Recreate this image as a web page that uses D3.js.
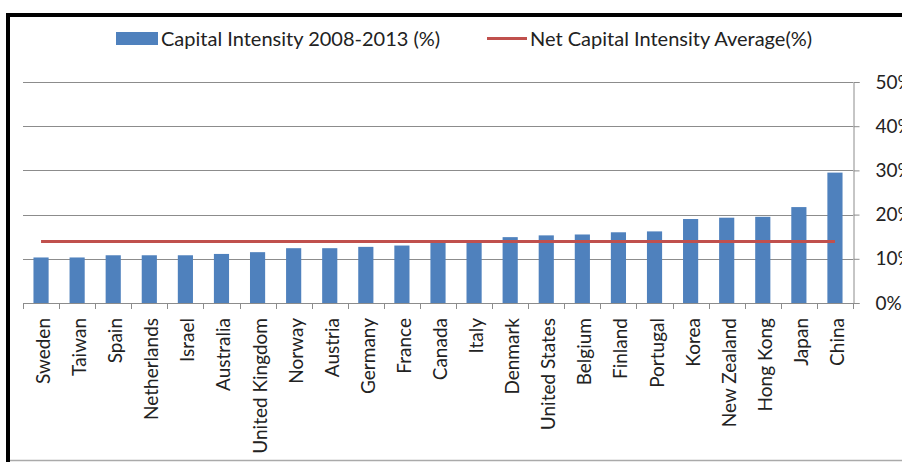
<!DOCTYPE html>
<html>
<head>
<meta charset="utf-8">
<script src="https://cdn.jsdelivr.net/npm/d3@7"></script>
<style>
  body { margin: 0; background: #fff; }
  svg { display: block; }
  text { font-family: Lato, "Open Sans", sans-serif; fill: #222; }
</style>
</head>
<body>
<div id="chart"></div>
<script>
// data
let countries = ["Sweden", "Taiwan", "Spain", "Netherlands", "Israel", "Australia",
  "United Kingdom", "Norway", "Austria", "Germany", "France", "Canada", "Italy",
  "Denmark", "United States", "Belgium", "Finland", "Portugal", "Korea",
  "New Zealand", "Hong Kong", "Japan", "China"];
let intensity = [10.3, 10.3, 10.8, 10.8, 10.8, 11.1, 11.5, 12.4, 12.4, 12.7, 13.0,
  14.0, 14.0, 14.9, 15.3, 15.5, 16.0, 16.2, 19.0, 19.3, 19.5, 21.7, 29.5];
let averageValue = 13.9;
let yTicks = [0, 10, 20, 30, 40, 50];
let seriesNames = ["Capital Intensity 2008-2013 (%)", "Net Capital Intensity Average(%)"];

let width = 902;
let height = 462;
let plotLeft = 23, plotRight = 853, plotTop = 82, plotBottom = 303;

let svg = d3.select("#chart").append("svg")
  .attr("width", width)
  .attr("height", height);

// frame
svg.append("rect")
  .attr("x", 6).attr("y", 13).attr("width", 4).attr("height", height - 13)
  .attr("fill", "#000");
svg.append("rect")
  .attr("x", 6).attr("y", 13).attr("width", width - 6).attr("height", 4)
  .attr("fill", "#000");
svg.append("line")
  .attr("x1", 10).attr("x2", width).attr("y1", 460.5).attr("y2", 460.5)
  .attr("stroke", "#aaa").attr("stroke-width", 1.5);

let x = d3.scaleBand()
  .domain(countries)
  .range([plotLeft, plotRight])
  .paddingInner(0.58)
  .paddingOuter(0.29);

let xOuter = d3.scaleBand()
  .domain(countries)
  .range([plotLeft, plotRight]);

let y = d3.scaleLinear()
  .domain([0, 50])
  .range([plotBottom, plotTop]);

// gridlines
svg.append("g")
  .selectAll("line.grid")
  .data(yTicks.filter(d => d > 0))
  .enter()
  .append("line")
  .classed("grid", true)
  .attr("x1", plotLeft)
  .attr("x2", plotRight)
  .attr("y1", d => Math.round(y(d)) + 0.5)
  .attr("y2", d => Math.round(y(d)) + 0.5)
  .attr("stroke", "#8c8c8c");

// bars
svg.append("g")
  .selectAll("rect.bar")
  .data(intensity)
  .enter()
  .append("rect")
  .classed("bar", true)
  .attr("x", (d, i) => x(countries[i]))
  .attr("width", x.bandwidth())
  .attr("y", d => y(d))
  .attr("height", d => y(0) - y(d))
  .attr("fill", "#4f81bd");

// average line
let line = d3.line()
  .x(d => xOuter(d) + xOuter.bandwidth() / 2)
  .y(() => y(averageValue));
svg.append("path")
  .datum([countries[0], countries[countries.length - 1]])
  .attr("d", line)
  .attr("stroke", "#c0504d")
  .attr("stroke-width", 3)
  .attr("fill", "none");

// right axis (labels run off the right edge, as in the source image)
let yAxis = d3.axisRight(y)
  .tickValues(yTicks)
  .tickSize(6)
  .tickPadding(16)
  .tickFormat(d => d + "%");
let yg = svg.append("g")
  .attr("transform", `translate(${plotRight + 0.5},0)`)
  .call(yAxis);
yg.select(".domain").attr("stroke", "#8c8c8c");
yg.selectAll(".tick line").attr("stroke", "#8c8c8c");
yg.selectAll(".tick text")
  .attr("font-size", 19)
  .attr("fill", "#222")
  .style("font-family", "Lato, sans-serif");

// bottom axis with ticks between categories
svg.append("line")
  .attr("x1", plotLeft).attr("x2", plotRight)
  .attr("y1", plotBottom + 0.5).attr("y2", plotBottom + 0.5)
  .attr("stroke", "#8c8c8c");
let tickPos = countries.map(c => xOuter(c)).concat([plotRight]);
svg.append("g")
  .selectAll("line.xtick")
  .data(tickPos)
  .enter()
  .append("line")
  .classed("xtick", true)
  .attr("x1", d => Math.round(d) + 0.5)
  .attr("x2", d => Math.round(d) + 0.5)
  .attr("y1", plotBottom)
  .attr("y2", plotBottom + 6)
  .attr("stroke", "#8c8c8c");

svg.append("g")
  .selectAll("text.xlabel")
  .data(countries)
  .enter()
  .append("text")
  .classed("xlabel", true)
  .text(d => d)
  .attr("text-anchor", "end")
  .attr("font-size", 19)
  .attr("transform", d => `translate(${xOuter(d) + xOuter.bandwidth() / 2 + 9},318) rotate(-90)`);

// legend
svg.append("rect")
  .attr("x", 116).attr("y", 32).attr("width", 42).attr("height", 13)
  .attr("fill", "#4f81bd");
svg.append("text")
  .attr("x", 161).attr("y", 46)
  .attr("font-size", 20)
  .text(seriesNames[0]);
svg.append("line")
  .attr("x1", 487).attr("x2", 527).attr("y1", 38.5).attr("y2", 38.5)
  .attr("stroke", "#c0504d").attr("stroke-width", 3);
svg.append("text")
  .attr("x", 530).attr("y", 46)
  .attr("font-size", 20)
  .text(seriesNames[1]);
</script>
</body>
</html>
